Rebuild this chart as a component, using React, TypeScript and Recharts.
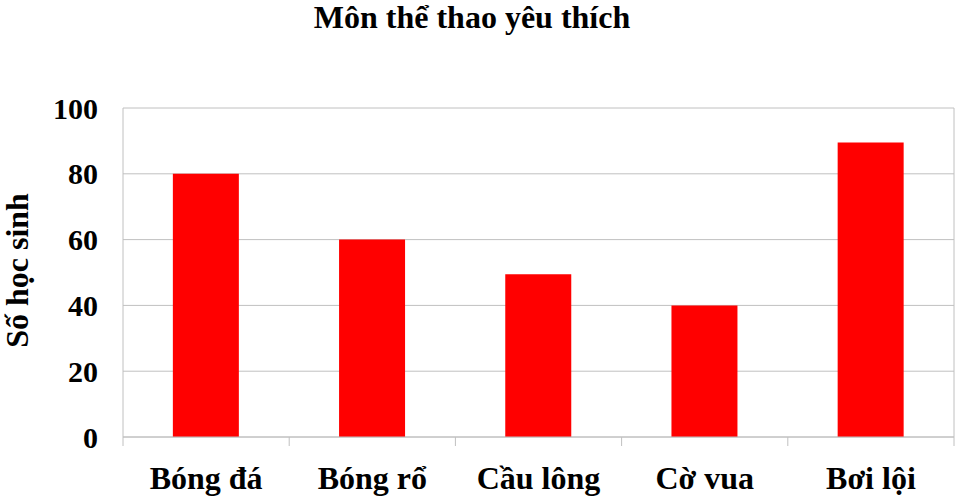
import { Bar, BarChart, CartesianGrid, XAxis, YAxis } from "recharts";

const sports = ["Bóng đá", "Bóng rổ", "Cầu lông", "Cờ vua", "Bơi lội"];
const students = [80, 60, 49.5, 40, 89.5];
const yTicks = [0, 20, 40, 60, 80, 100];

const data = sports.map((name, i) => ({ name, value: students[i] }));

const FONT = "'Liberation Serif', 'Times New Roman', serif";
const GRID = "#c0c0c0";

function YLabel({ viewBox }: any) {
  const cx = viewBox.x + 28;
  const cy = viewBox.y + viewBox.height / 2 - 2;
  return (
    <text
      x={cx}
      y={cy}
      transform={`rotate(-90 ${cx} ${cy})`}
      textAnchor="middle"
      fontFamily={FONT}
      fontWeight="bold"
      fontSize={32}
      fill="#000"
    >
      Số học sinh
    </text>
  );
}

// category label plus tick marks at the band edges, like the original
function CatTick({ x, y, payload, index, width, visibleTicksCount }: any) {
  const step = width / visibleTicksCount;
  const left = x - step / 2;
  const isLast = index === visibleTicksCount - 1;
  return (
    <g>
      <line x1={left} x2={left} y1={y} y2={y + 9} stroke={GRID} />
      {isLast && <line x1={left + step} x2={left + step} y1={y} y2={y + 9} stroke={GRID} />}
      <text x={x} y={y + 52} textAnchor="middle" fontFamily={FONT} fontWeight="bold" fontSize={32} fill="#000">
        {payload.value}
      </text>
    </g>
  );
}

export default function App() {
  return (
    <div style={{ position: "absolute", left: 0, top: 0, width: 956, height: 497, background: "#fff" }}>
      <svg width={956} height={60} style={{ position: "absolute", left: 0, top: 0 }}>
        <text x={472} y={28} textAnchor="middle" fontFamily={FONT} fontWeight="bold" fontSize={32} fill="#000">
          Môn thể thao yêu thích
        </text>
      </svg>
      <BarChart
        width={956}
        height={497}
        data={data}
        margin={{ top: 108, right: 0, bottom: 0, left: 0 }}
        barCategoryGap="30%"
      >
        <CartesianGrid stroke={GRID} vertical={false} />
        <XAxis
          dataKey="name"
          height={60}
          axisLine={{ stroke: GRID }}
          tickLine={false}
          tickSize={0}
          tickMargin={0}
          interval={0}
          tick={<CatTick />}
        />
        <YAxis
          width={123}
          domain={[0, 100]}
          ticks={yTicks}
          axisLine={{ stroke: GRID }}
          tickLine={false}
          tickSize={0}
          tickMargin={25}
          tick={{ fontFamily: FONT, fontWeight: "bold", fontSize: 30, fill: "#000" }}
          label={<YLabel />}
        />
        <YAxis
          yAxisId="right"
          orientation="right"
          width={2}
          domain={[0, 100]}
          tick={false}
          tickLine={false}
          axisLine={{ stroke: GRID }}
        />
        <Bar dataKey="value" fill="#ff0000" isAnimationActive={false} />
      </BarChart>
    </div>
  );
}
